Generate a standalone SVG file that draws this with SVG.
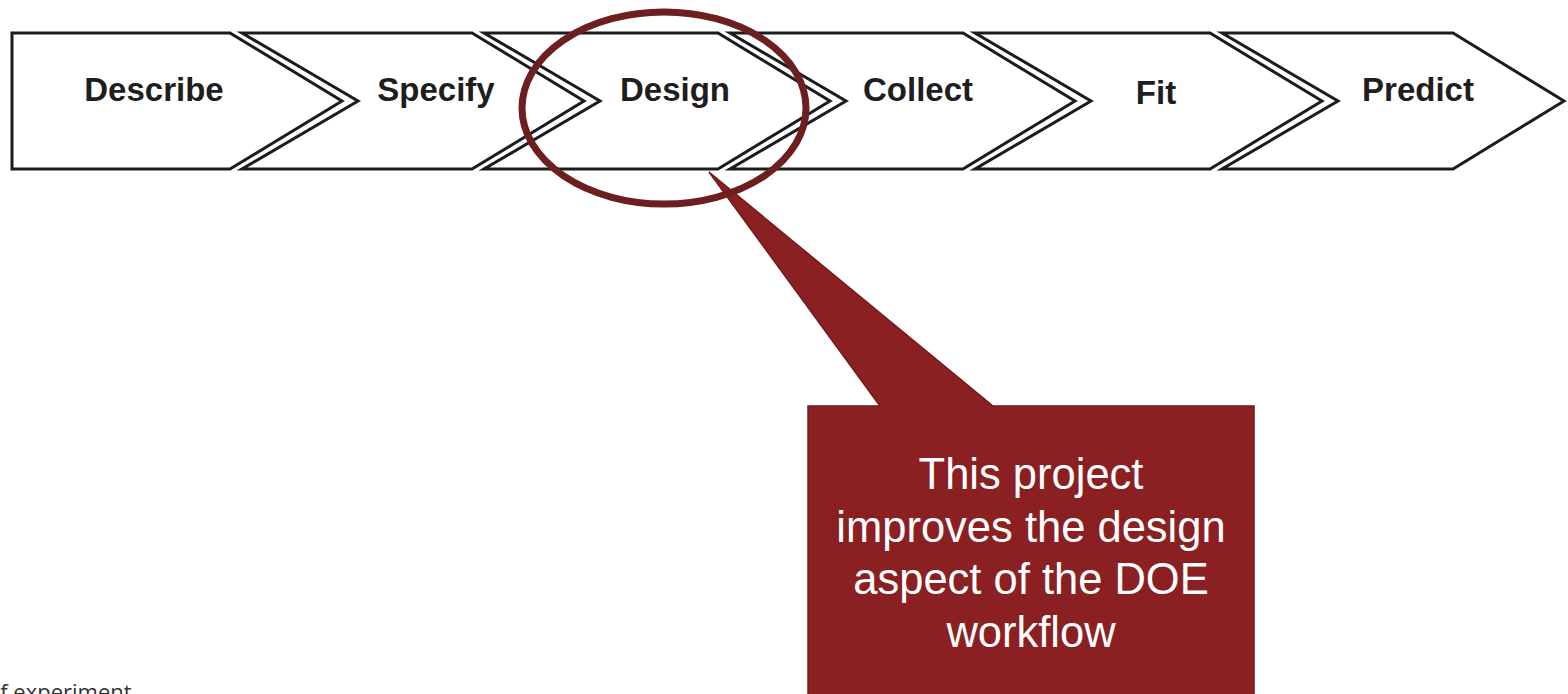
<svg xmlns="http://www.w3.org/2000/svg" width="1568" height="694" viewBox="0 0 1568 694">
  <style>
    .chev { fill: #ffffff; stroke: #1c1c1c; stroke-width: 3; stroke-linejoin: miter; }
    .lbl { font-family: "Liberation Sans", Arial, sans-serif; font-weight: bold; font-size: 33px; fill: #1e1e1e; text-anchor: middle; }
    .call { fill: #8b2022; stroke: #731a1b; stroke-width: 1.5; }
    .ctext { font-family: "Liberation Sans", Arial, sans-serif; font-size: 43.5px; fill: #ffffff; text-anchor: middle; }
    .ring { fill: none; stroke: #6d1f1f; stroke-width: 7; }
    .foot { font-family: "Open Sans", "Noto Sans", sans-serif; font-size: 22px; fill: #333333; }
  </style>
  <rect width="1568" height="694" fill="#ffffff"/>

  <g id="describe">
    <path class="chev" d="M12,33 H230 L342,101 L230,169 H12 Z"/>
    <text class="lbl" x="154" y="101">Describe</text>
  </g>
  <g id="specify">
    <path class="chev" d="M242,33 H472 L584,101 L472,169 H242 L358,101 Z"/>
    <text class="lbl" x="436" y="101">Specify</text>
  </g>
  <g id="design">
    <path class="chev" d="M484,33 H718 L830,101 L718,169 H484 L600,101 Z"/>
    <text class="lbl" x="675" y="101">Design</text>
  </g>
  <g id="collect">
    <path class="chev" d="M730,33 H963 L1075,101 L963,169 H730 L846,101 Z"/>
    <text class="lbl" x="918" y="101">Collect</text>
  </g>
  <g id="fit">
    <path class="chev" d="M975,33 H1210 L1322,101 L1210,169 H975 L1091,101 Z"/>
    <text class="lbl" x="1156" y="104">Fit</text>
  </g>
  <g id="predict">
    <path class="chev" d="M1222,33 H1453 L1564,101 L1453,169 H1222 L1338,101 Z"/>
    <text class="lbl" x="1418" y="101">Predict</text>
  </g>

  <g id="callout">
    <path class="call" d="M709,172 L880,406 H808 V700 H1254 V406 H993 Z"/>
    <text class="ctext" x="1031" y="489">This project</text>
    <text class="ctext" x="1031" y="542">improves the design</text>
    <text class="ctext" x="1031" y="594">aspect of the DOE</text>
    <text class="ctext" x="1031" y="647">workflow</text>
  </g>

  <g id="connectors">
    <ellipse class="ring" cx="664" cy="108" rx="142" ry="96"/>
  </g>

  <text class="foot" x="-13" y="700">of experiment</text>
</svg>
